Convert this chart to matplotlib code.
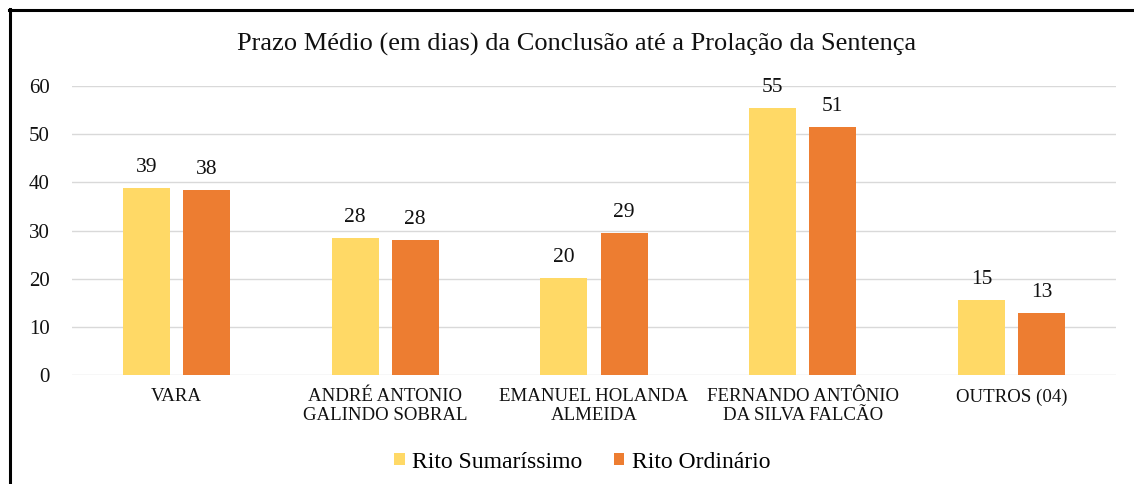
import matplotlib
matplotlib.use("Agg")
import matplotlib.pyplot as plt
from matplotlib.lines import Line2D
import numpy as np

categories = ["VARA", "ANDRÉ ANTONIO\nGALINDO SOBRAL", "EMANUEL HOLANDA\nALMEIDA",
              "FERNANDO ANTÔNIO\nDA SILVA FALCÃO", "OUTROS (04)"]
sumarissimo = [38.9, 28.4, 20.1, 55.4, 15.5]
ordinario = [38.4, 28.0, 29.4, 51.4, 12.9]
sumarissimo_labels = ["39", "28", "20", "55", "15"]
ordinario_labels = ["38", "28", "29", "51", "13"]
series_names = ["Rito Sumaríssimo", "Rito Ordinário"]
yticks = [0, 10, 20, 30, 40, 50, 60]
title = "Prazo Médio (em dias) da Conclusão até a Prolação da Sentença"

plt.rcParams['font.family'] = ['Liberation Serif', 'DejaVu Serif']

W, H = 1134, 484
fig = plt.figure(figsize=(W / 100, H / 100), dpi=100)
ax = fig.add_axes([72 / W, 1 - 375 / H, (1116 - 72) / W, (375 - 86) / H])

x = np.arange(len(categories))
bw = 0.225
off = 0.144
c1, c2 = "#FFD966", "#ED7D31"
b1 = ax.bar(x - off, sumarissimo, bw, color=c1, label=series_names[0], zorder=3)
b2 = ax.bar(x + off, ordinario, bw, color=c2, label=series_names[1], zorder=3)

for bars, labs in ((b1, sumarissimo_labels), (b2, ordinario_labels)):
    for r, lab in zip(bars, labs):
        ax.annotate(lab, (r.get_x() + r.get_width() / 2, r.get_height()),
                    xytext=(0, 8), textcoords="offset points", ha="center", va="bottom",
                    fontsize=15.5, color="#111111")

ax.set_xlim(-0.5, len(categories) - 0.5)
ax.set_ylim(0, 60)
ax.set_yticks(yticks)
ax.set_yticklabels([str(v) for v in yticks], fontsize=15, color="#111111")
ax.set_xticks(x)
ax.set_xticklabels(categories, fontsize=13.6, color="#111111", linespacing=1.12)
ax.tick_params(axis="both", length=0)
ax.tick_params(axis="y", pad=16)
ax.tick_params(axis="x", pad=9.5)
for s in ax.spines.values():
    s.set_visible(False)
ax.grid(axis="y", color="#D9D9D9", linewidth=1, zorder=0)
ax.set_axisbelow(True)

fig.text(577 / W, 1 - 44 / H, title, ha="center", va="center", fontsize=19, color="#111111")

leg = fig.legend(handles=[b1, b2], labels=series_names, loc="center",
                 bbox_to_anchor=(582 / W, 1 - 462 / H), ncol=2, frameon=False,
                 fontsize=17, handlelength=0.45, handleheight=0.45, handletextpad=0.3,
                 columnspacing=1.35)

fig.add_artist(Line2D([9 / W, 1], [1 - 10 / H, 1 - 10 / H], color="black", linewidth=2.2,
                      transform=fig.transFigure))
fig.add_artist(Line2D([10 / W, 10 / W], [1 - 9 / H, 0], color="black", linewidth=2.2,
                      transform=fig.transFigure))

fig.savefig("out.png", dpi=100)
